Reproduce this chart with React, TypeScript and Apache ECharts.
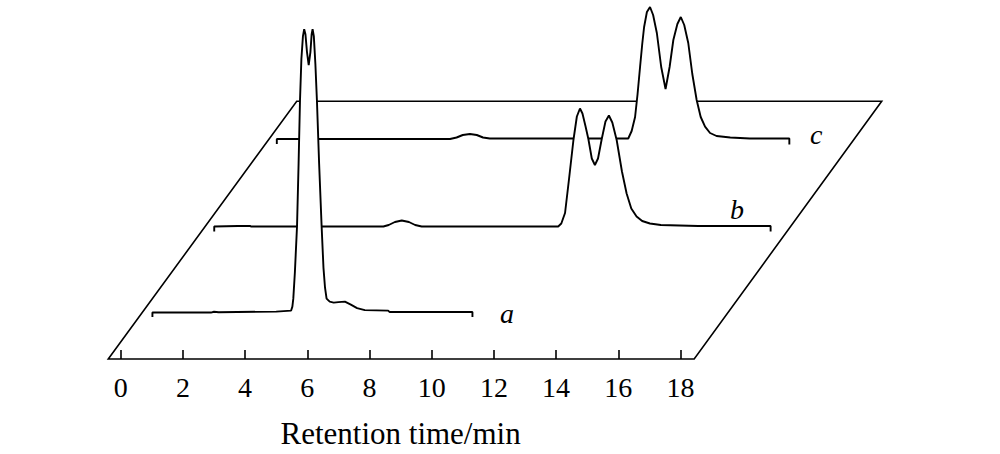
import React, { useEffect, useRef } from "react";
import * as echarts from "echarts";

// Retention time (min) vs detector response (arbitrary units), one array per chromatogram
const traceA: [number, number][] = [
  [1.02, -4.5], [1.02, 0], [2.9, 0], [3.0, 0.8], [3.15, 0.3], [5.0, 1], [5.48, 2], [5.52, 6], [5.55, 14],
  [5.6, 40], [5.67, 87], [5.72, 150], [5.765, 213], [5.81, 255], [5.86, 278], [5.9, 285], [5.94, 280],
  [5.99, 262], [6.045, 249], [6.1, 262], [6.14, 280], [6.17, 285], [6.21, 278], [6.26, 250], [6.31, 213],
  [6.38, 150], [6.46, 87], [6.52, 45], [6.57, 25], [6.62, 14], [6.72, 11], [6.85, 10], [7.0, 10.5],
  [7.21, 11], [7.4, 8], [7.6, 4.5], [7.85, 2.5], [8.6, 2], [8.65, 0.5], [11.31, 0.5], [11.31, -4.5],
];
const traceB: [number, number][] = [
  [0.94, -5], [0.94, 0], [1.7, 0.5], [2.1, 0.5], [2.12, 0], [6.38, 0], [6.55, 1.5], [6.75, 4.5], [6.97, 6],
  [7.2, 4.5], [7.4, 1.5], [7.61, 0], [12.0, 0], [12.1, 3], [12.22, 13.5], [12.35, 48], [12.49, 86.5],
  [12.6, 110], [12.7, 118], [12.78, 113], [12.88, 100], [12.97, 87.5], [13.08, 68], [13.18, 61.5],
  [13.28, 68], [13.4, 87.5], [13.52, 105], [13.63, 111], [13.74, 104], [13.88, 86.5], [14.05, 55],
  [14.2, 33], [14.35, 18], [14.52, 10], [14.7, 5.5], [14.95, 3], [15.3, 1.5], [16.5, 0.5], [18.83, 0.5],
  [18.83, -5],
];
const traceC: [number, number][] = [
  [0.92, -5], [0.92, 0], [6.49, 0], [6.7, 1.5], [6.9, 4], [7.13, 5], [7.35, 4], [7.55, 1.5], [7.77, 0.5],
  [12.22, 0.5], [12.33, 8], [12.44, 22], [12.52, 45], [12.6, 72], [12.67, 95], [12.73, 112], [12.82, 127],
  [12.92, 132], [13.02, 124], [13.14, 106], [13.28, 72], [13.42, 50], [13.55, 72], [13.67, 99], [13.8, 115],
  [13.91, 122], [14.02, 114], [14.15, 96], [14.28, 65], [14.42, 39], [14.55, 22], [14.69, 12.3], [14.85, 6],
  [15.06, 3], [15.5, 1.5], [16.13, 0.5], [17.4, 0.5], [17.4, -5.5],
];
// oblique floor of the pseudo-3D plot, in the front trace's coordinates
const floorFrame: [number, number][] = [
  [-0.4, -46.7], [18.44, -46.7], [24.47, 212.6], [5.66, 212.6],
];
const traceNames = ["a", "b", "c"];
const xTickMin = 0;
const xTickMax = 18;
const xTickStep = 2;
const axisTitle = "Retention time/min";

const FONT = '"Liberation Serif", "Times New Roman", Times, serif';
const PX_PER_MIN = 31.1;

export default function App() {
  const ref = useRef<HTMLDivElement>(null);
  useEffect(() => {
    if (!ref.current) return;
    const chart = echarts.init(ref.current, undefined, { renderer: "svg" });
    const hiddenY = (gi: number, min: number, max: number) => ({
      gridIndex: gi, type: "value", min, max, show: false,
    });
    const lineSeries = (data: [number, number][], gi: number, z: number) => ({
      type: "line",
      xAxisIndex: gi,
      yAxisIndex: gi,
      data,
      symbol: "none",
      clip: false,
      silent: true,
      z,
      lineStyle: { color: "#000", width: 1.9 },
      areaStyle: { color: "#fff", opacity: 1 },
    });
    const labelText = (text: string, x: number, y: number) => ({
      type: "text",
      id: "label-" + text,
      x,
      y,
      z: 10,
      style: {
        text, fill: "#000", fontFamily: FONT, fontSize: 28, fontStyle: "italic",
        verticalAlign: "middle", align: "left",
      },
    });
    chart.setOption({
      animation: false,
      backgroundColor: "#fff",
      grid: [
        { left: 120.7, width: 18 * PX_PER_MIN, top: 14.3, height: 346.7 },
        { left: 185, width: 19 * PX_PER_MIN, top: 26.5, height: 210 },
        { left: 248.2, width: 18 * PX_PER_MIN, top: 9, height: 140 },
      ],
      xAxis: [
        {
          gridIndex: 0, type: "value", min: xTickMin, max: xTickMax, interval: xTickStep,
          axisLine: { show: false, onZero: false },
          axisTick: { show: true, inside: true, length: 9, lineStyle: { color: "#000", width: 1.6 } },
          axisLabel: { fontFamily: FONT, fontSize: 28, color: "#000", margin: 14 },
          splitLine: { show: false },
          name: axisTitle, nameLocation: "middle", nameGap: 59,
          nameTextStyle: { fontFamily: FONT, fontSize: 31, color: "#000" },
        },
        { gridIndex: 1, type: "value", min: 0, max: 19, show: false },
        { gridIndex: 2, type: "value", min: 0, max: 18, show: false },
      ],
      yAxis: [hiddenY(0, -46.7, 300), hiddenY(1, -10, 200), hiddenY(2, -10, 130)],
      series: [
        lineSeries(traceC, 2, 3),
        lineSeries(traceB, 1, 4),
        lineSeries(traceA, 0, 5),
      ],
      graphic: [
        labelText(traceNames[0], 500, 313.2),
        labelText(traceNames[1], 730, 209.5),
        labelText(traceNames[2], 810, 134.5),
      ],
    });
    const framePts = floorFrame.map((p) => chart.convertToPixel({ gridIndex: 0 }, p) as number[]);
    chart.setOption({
      graphic: [
        {
          type: "polygon",
          id: "floor",
          z: 0,
          silent: true,
          shape: { points: framePts },
          style: { fill: "none", stroke: "#000", lineWidth: 1.6 },
        },
      ],
    });
    return () => chart.dispose();
  }, []);
  return (
    <div
      ref={ref}
      style={{ position: "fixed", left: 0, top: 0, width: 1000, height: 454, background: "#fff" }}
    />
  );
}
